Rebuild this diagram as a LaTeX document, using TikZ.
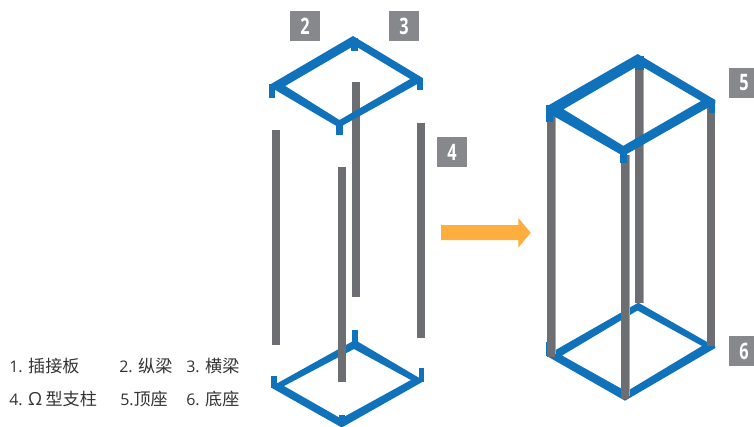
\documentclass[tikz,border=0pt]{standalone}
\usepackage{fontspec}
\setmainfont{Open Sans}[Scale=1]
\newfontfamily\cjkf{Noto Sans CJK SC}
\newfontfamily\numf{Open Sans}[FakeStretch=0.72]
\definecolor{frameblue}{HTML}{0F72BA}
\definecolor{bargray}{HTML}{6D6E71}
\definecolor{barlight}{HTML}{A7A9AC}
\definecolor{tagray}{HTML}{87888B}
\definecolor{arroworange}{HTML}{FDAE3F}
\definecolor{txt}{HTML}{333335}
\tikzset{
  framefill/.style={fill=frameblue,even odd rule},
  tabfill/.style={fill=frameblue},
  barfill/.style={fill=bargray},
  barhi/.style={fill=barlight},
  tagbox/.style={fill=tagray},
  tagtext/.style={inner sep=0pt,text=white,font=\numf\bfseries\fontsize{17}{17}\selectfont},
  legend/.style={anchor=west,inner sep=0pt,text=txt,font=\fontsize{12}{13}\selectfont}
}
\newcommand{\zh}[1]{{\cjkf\fontsize{12.8}{14}\selectfont #1}}
\begin{document}
\begin{tikzpicture}[x=0.75pt,y=-0.75pt]
\useasboundingbox (0,0) rectangle (754,426);
% ---- left exploded: bottom frame
\fill[framefill] (355,340) -- (424,380.7) -- (424,381) -- (341.7,427.5) -- (271,387.5) -- (271,386.7) -- cycle
  (354,349) -- (284,386) -- (341,418.5) -- (411,380) -- cycle;
\fill[tabfill] (352,330) rectangle (358.3,343);
\fill[tabfill] (271,376) rectangle (276.7,388);
\fill[tabfill] (419,368.3) rectangle (424,382);
\fill[tabfill] (338.5,415) rectangle (345,422);
% bars
\fill[barfill] (271.7,130) rectangle (279.7,345);
\fill[barfill] (351.7,82) rectangle (360,297);
\fill[barfill] (338.3,167) rectangle (346.3,382);
\fill[barfill] (416.7,123) rectangle (424.7,338);
% top frame
\fill[framefill] (353,36) -- (422.7,78) -- (422.7,81) -- (339,127.5) -- (269.3,86.5) -- (269.3,85) -- cycle
  (354.5,45.5) -- (285.2,86) -- (339.5,120) -- (410.2,79) -- cycle;
\fill[tabfill] (350.7,38) rectangle (357.7,50.7);
\fill[tabfill] (269.3,84) rectangle (275.3,98);
\fill[tabfill] (417.3,78) rectangle (422.7,90);
\fill[tabfill] (336,124) rectangle (342.7,135);
% ---- right assembled: bottom frame
\fill[framefill] (638.3,302.7) -- (715.3,346.7) -- (715.3,348) -- (625,400.7) -- (546,355.5) -- cycle
  (637.5,310.5) -- (562,355.5) -- (626.5,391.5) -- (702,346) -- cycle;
\fill[tabfill] (546,341.7) rectangle (552,356);
\fill[tabfill] (709.5,333) rectangle (715.3,347);
% bars
\fill[barfill] (635,60) rectangle (642.7,303);
\fill[barhi] (642.7,60) rectangle (643.7,303);
\fill[barfill] (546.7,110) rectangle (554.7,357);
\fill[barhi] (554.7,110) rectangle (555.7,354);
\fill[barfill] (707.3,105) rectangle (715.3,346);
\fill[barfill] (620.7,155) rectangle (628.7,399);
\fill[barhi] (628.7,155) rectangle (629.7,396);
% top frame
\fill[framefill] (637.7,54) -- (715.3,100) -- (715.3,103.5) -- (623.3,156) -- (546,111.7) -- (546,106.7) -- cycle
  (639.5,65) -- (563.5,109.3) -- (623.3,145.8) -- (701,101) -- cycle;
\fill[tabfill] (635,56) rectangle (644,70);
\fill[tabfill] (546,105) rectangle (552.7,121.7);
\fill[tabfill] (709.3,100) rectangle (715.3,113.3);
\fill[tabfill] (620,150) rectangle (627.3,162.7);
% arrow
\fill[arroworange] (441,225) -- (518.3,225) -- (518.3,218) -- (530.7,232.7) -- (518.3,247.7) -- (518.3,240) -- (441,240) -- cycle;
% tags
\fill[tagbox] (290,11) rectangle (320,41);
\node[tagtext] (t2) at (305,26) {2};
\fill[tagbox] (389,11) rectangle (419,41);
\node[tagtext] (t3) at (404,26) {3};
\fill[tagbox] (437,137) rectangle (467,167);
\node[tagtext] (t4) at (452,152) {4};
\fill[tagbox] (729,68) rectangle (754,97.7);
\node[tagtext] (t5) at (744,83) {5};
\fill[tagbox] (729,336) rectangle (754,365.7);
\node[tagtext] (t6) at (744,351) {6};
% legend
\node[legend] (l1) at (9,365.7) {1. \zh{插接板}};
\node[legend] (l2) at (119,365.7) {2. \zh{纵梁}};
\node[legend] (l3) at (186,365.7) {3. \zh{横梁}};
\node[legend] (l4) at (9,399) {4. \fontsize{13.5}{14}\selectfont Ω\hspace{2.5pt}\zh{型支柱}};
\node[legend] (l5) at (120,399) {5.\zh{顶座}};
\node[legend] (l6) at (186,399) {6. \zh{底座}};
\end{tikzpicture}
\end{document}
